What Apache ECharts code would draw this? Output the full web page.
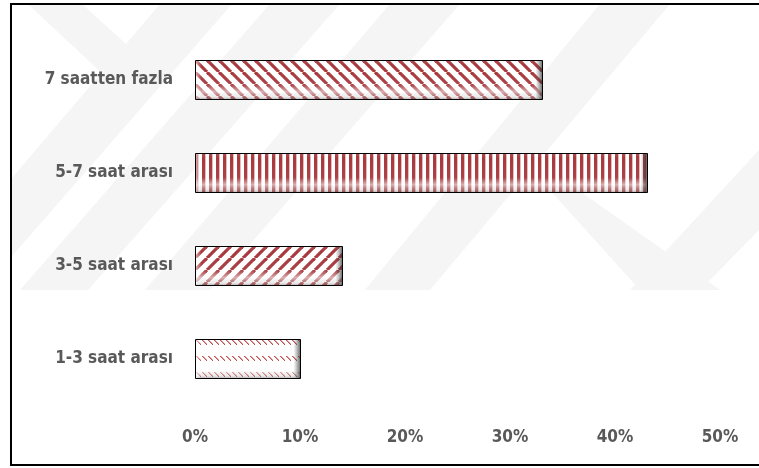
<!DOCTYPE html>
<html>
<head>
<meta charset="utf-8">
<script src="https://cdn.jsdelivr.net/npm/echarts@6/dist/echarts.min.js"></script>
<style>
  html, body { margin: 0; padding: 0; background: #fff; }
  #chart { width: 759px; height: 468px; }
</style>
</head>
<body>
<div id="chart"></div>
<script>
// Daily time spent, share of respondents per group
const categories = ['1-3 saat arası', '3-5 saat arası', '5-7 saat arası', '7 saatten fazla'];
const shares = [10, 14, 43, 33];
const patterns = ['dots', 'rising', 'vertical', 'falling'];
const xTicks = [0, 10, 20, 30, 40, 50];

const RED = '#a8383c';
const LABEL = '#595959';
const FONT = '"DejaVu Sans Condensed", "DejaVu Sans", sans-serif';

// Stripe tiles for the bar fills
function makeTile(kind, h) {
  const c = document.createElement('canvas');
  const ctx = c.getContext('2d');
  if (kind === 'vertical') {
    c.width = 7; c.height = 8;
    ctx.fillStyle = '#fff'; ctx.fillRect(0, 0, 7, 8);
    ctx.fillStyle = RED; ctx.fillRect(0, 0, 3, 8);
    ctx.fillStyle = 'rgba(168,56,60,0.35)'; ctx.fillRect(3, 0, 1, 8);
  } else if (kind === 'falling' || kind === 'rising') {
    const p = 12;
    c.width = p; c.height = p;
    ctx.fillStyle = '#fff'; ctx.fillRect(0, 0, p, p);
    ctx.strokeStyle = RED; ctx.lineWidth = 3.2;
    for (let k = -1; k <= 1; k++) {
      ctx.beginPath();
      if (kind === 'falling') {
        ctx.moveTo(k * p, 0); ctx.lineTo(k * p + p, p);
      } else {
        ctx.moveTo(k * p, p); ctx.lineTo(k * p + p, 0);
      }
      ctx.stroke();
    }
  } else {
    // short dashed diagonal ticks along three rows
    const w = 6;
    c.width = w; c.height = h;
    ctx.fillStyle = '#fff'; ctx.fillRect(0, 0, w, h);
    ctx.fillStyle = '#c04848';
    const rows = [1, Math.round(h / 2) - 3, h - 6];
    rows.forEach(function (r) {
      for (let i = 0; i < 5; i++) ctx.fillRect(1 + i, r + i, 1.5, 1);
    });
  }
  return c;
}

const chart = echarts.init(document.getElementById('chart'), null, { renderer: 'canvas' });

// Faint background emblem bands
const wm = '#f5f5f5';
const emblem = [
  [[28, 4], [82, 4], [150, 66], [122, 92]],
  [[160, 4], [232, 4], [12, 256], [12, 178]],
  [[270, 4], [340, 4], [88, 290], [20, 290]],
  [[390, 4], [460, 4], [210, 290], [145, 290]],
  [[600, 4], [670, 4], [430, 290], [365, 290]],
  [[455, 85], [500, 135], [720, 290], [640, 290]],
  [[759, 150], [759, 230], [700, 290], [630, 290]]
].map(function (pts) {
  return { type: 'polygon', z: -10, silent: true, shape: { points: pts }, style: { fill: wm } };
});

chart.setOption({
  animation: false,
  backgroundColor: '#fff',
  graphic: emblem.concat([{
    type: 'rect', z: 100, silent: true,
    shape: { x: 11, y: 4, width: 800, height: 461 },
    style: { fill: 'none', stroke: '#000', lineWidth: 2 }
  }]),
  grid: { left: 195, right: 39, top: 33, bottom: 63 },
  xAxis: {
    type: 'value', min: 0, max: 50, interval: 10,
    axisLine: { show: false }, axisTick: { show: false }, splitLine: { show: false },
    axisLabel: {
      margin: 24, color: LABEL, fontSize: 17, fontWeight: 'bold', fontFamily: FONT,
      formatter: function (v) { return xTicks.indexOf(v) >= 0 ? v + '%' : ''; }
    }
  },
  yAxis: {
    type: 'category', data: categories,
    axisLine: { show: false }, axisTick: { show: false }, splitLine: { show: false },
    axisLabel: { margin: 22, color: LABEL, fontSize: 17, fontWeight: 'bold', fontFamily: FONT }
  },
  series: [{
    type: 'custom',
    data: shares.map(function (v, i) { return [v, i]; }),
    encode: { x: 0, y: 1 },
    renderItem: function (params, api) {
      const end = api.coord([api.value(0), api.value(1)]);
      const start = api.coord([0, api.value(1)]);
      const band = api.size([0, 1])[1];
      const h = Math.round(band * 0.42);
      const x = Math.round(start[0]) + 0.5;
      const y = Math.round(end[1] - h / 2) + 0.5;
      const w = Math.round(end[0] - start[0]);
      const kind = patterns[params.dataIndex];
      const tile = makeTile(kind, h);
      return {
        type: 'group',
        children: [
          { type: 'rect', shape: { x: x, y: y, width: w, height: h },
            style: { fill: { image: tile, repeat: 'repeat', x: x - 0.5, y: y - 0.5 } } },
          // glossy bevel: soft highlight low on the face, darker rim at bottom
          { type: 'rect', shape: { x: x, y: y, width: w, height: h },
            style: { fill: new echarts.graphic.LinearGradient(0, 0, 0, 1, [
              { offset: 0, color: 'rgba(255,255,255,0.1)' },
              { offset: 0.12, color: 'rgba(255,255,255,0)' },
              { offset: 0.62, color: 'rgba(255,255,255,0.05)' },
              { offset: 0.8, color: 'rgba(255,255,255,0.6)' },
              { offset: 0.93, color: 'rgba(200,200,200,0.35)' },
              { offset: 1, color: 'rgba(90,90,90,0.5)' }
            ]) } },
          // shaded right end
          { type: 'rect', shape: { x: x + w - 7, y: y, width: 7, height: h },
            style: { fill: new echarts.graphic.LinearGradient(0, 0, 1, 0, [
              { offset: 0, color: 'rgba(80,80,80,0)' },
              { offset: 1, color: 'rgba(40,40,40,0.7)' }
            ]) } },
          // lit left end
          { type: 'rect', shape: { x: x, y: y, width: 6, height: h },
            style: { fill: new echarts.graphic.LinearGradient(0, 0, 1, 0, [
              { offset: 0, color: 'rgba(255,255,255,0.6)' },
              { offset: 1, color: 'rgba(255,255,255,0)' }
            ]) } },
          { type: 'rect', shape: { x: x, y: y, width: w, height: h },
            style: { fill: 'none', stroke: '#000', lineWidth: 1 } }
        ]
      };
    }
  }]
});
</script>
</body>
</html>
